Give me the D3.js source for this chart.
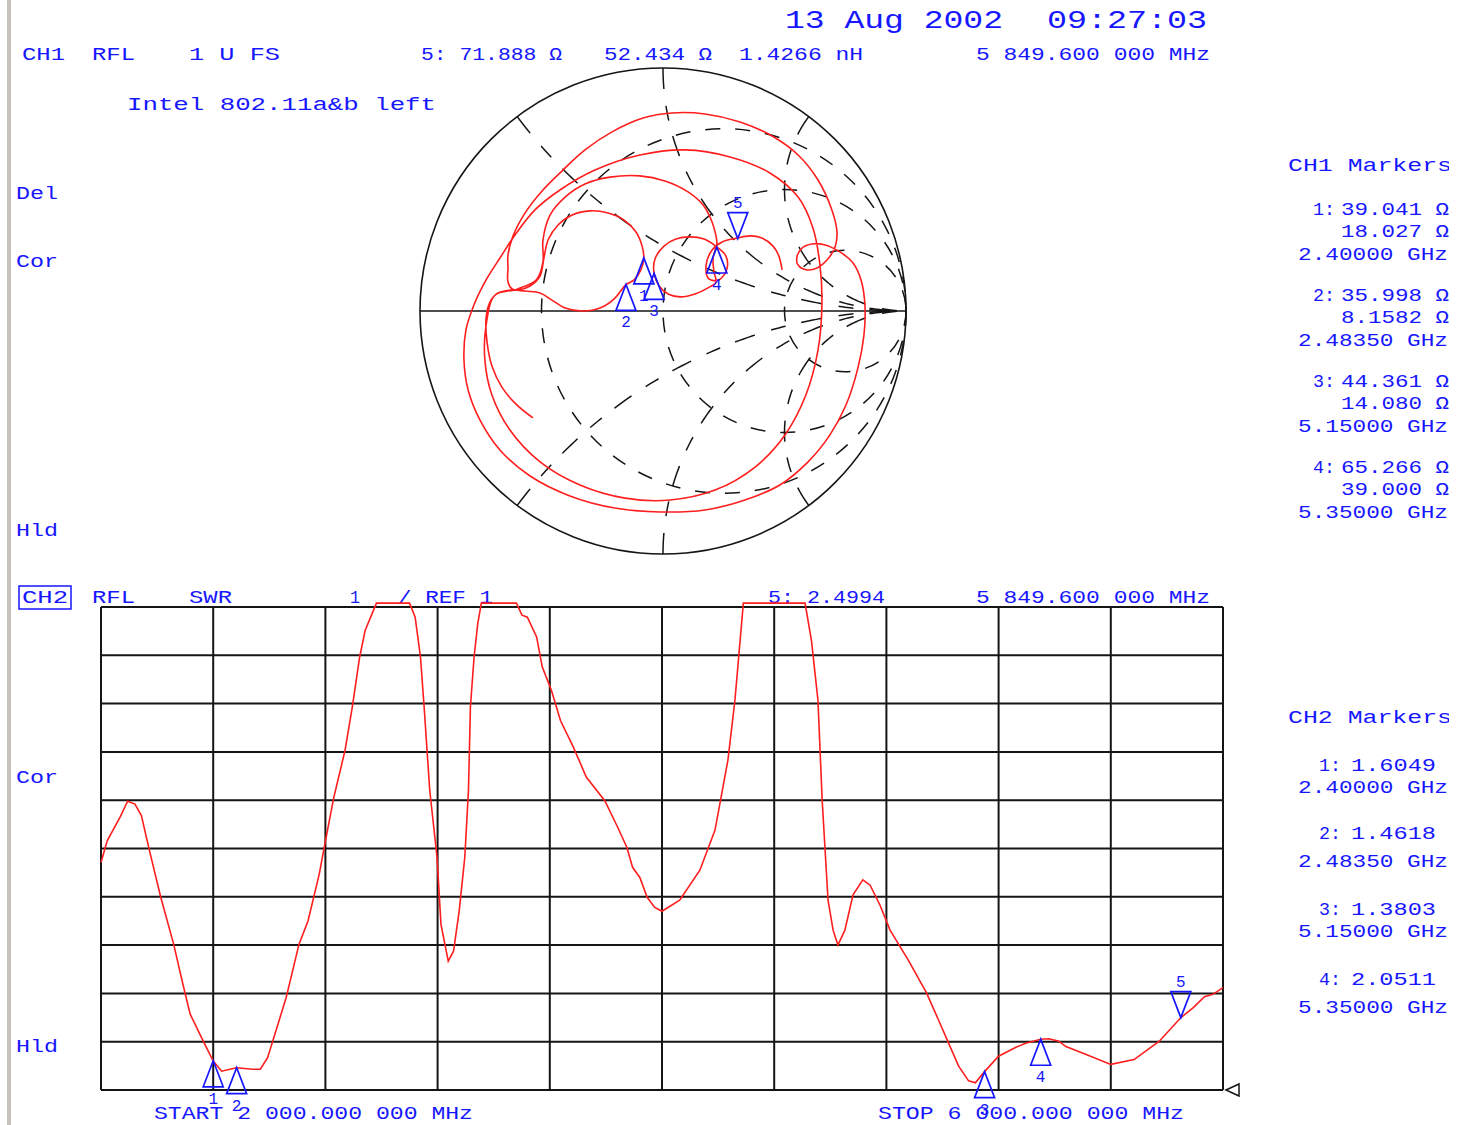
<!DOCTYPE html>
<html><head><meta charset="utf-8">
<script src="https://cdn.jsdelivr.net/npm/d3@7"></script>
<style>
html,body{margin:0;padding:0;background:#fff;}
svg{display:block;}
text{font-family:"Liberation Mono","DejaVu Sans Mono",monospace;fill:#1616ff;}
</style></head><body>
<svg id="c" width="1459" height="1125"></svg>
<script>
// ---------- DATA ----------
// CH2 (SWR vs frequency), frequency in MHz; 11.08 = trace pinned at top of screen
const swrFreqMHz = [2000,2022,2068,2095,2121,2144,2173,2213,2259,2292,2318,2358,2400,2430,2483,2540,2568,2594,2660,2706,2738,2778,2798,2830,2870,2896,2922,2942,2982,3100,3120,3139,3152,3172,3198,3212,3238,3257,3277,3297,3310,3317,3330,3343,3356,3481,3501,3520,3553,3573,3606,3638,3684,3730,3796,3842,3875,3895,3921,3947,3974,4000,4063,4135,4189,4235,4260,4290,4510,4533,4556,4571,4592,4610,4627,4652,4681,4716,4742,4777,4813,4877,4943,4985,5021,5057,5093,5117,5150,5200,5260,5296,5350,5379,5415,5440,5510,5600,5683,5773,5850,5893,5934,5964,6000];
const swrValues  = [5.71,6.16,6.65,6.98,6.92,6.68,5.95,4.99,4.02,3.19,2.57,2.09,1.60,1.39,1.46,1.43,1.43,1.67,2.91,4.02,4.50,5.47,6.09,7.06,8.03,8.93,9.96,10.52,11.08,11.08,10.79,9.96,8.93,7.20,5.82,4.43,3.67,3.88,4.71,5.82,7.20,8.93,9.96,10.65,11.08,11.08,10.83,10.79,10.38,9.76,9.27,8.65,8.10,7.48,6.99,6.44,6.02,5.61,5.40,4.99,4.78,4.70,4.93,5.55,6.38,7.83,9.07,11.08,11.08,10.30,9.07,7.00,4.93,4.31,4.00,4.31,5.04,5.35,5.24,4.83,4.31,3.70,3.01,2.46,1.98,1.50,1.19,1.15,1.38,1.70,1.88,1.97,2.05,2.06,2.01,1.90,1.74,1.53,1.63,2.01,2.50,2.70,2.93,2.98,3.12];
const freqTicks = [2000,2400,2800,3200,3600,4000,4400,4800,5200,5600,6000];
const swrTicks  = [1,2,3,4,5,6,7,8,9,10,11];

const ch2MarkerFreq = [2400, 2483.5, 5150, 5350, 5849.6];
const ch2MarkerSWR  = [1.6049, 1.4618, 1.3803, 2.0511, 2.4994];
const markerIds     = ["1","2","3","4","5"];

// CH1 (Smith chart) markers: R + jX in ohms
const ch1MarkerR = [39.041, 35.998, 44.361, 65.266, 71.888];
const ch1MarkerX = [18.027, 8.1582, 14.080, 39.000, 52.434];

// Smith trace, reflection coefficient (real, imag)
const smithRe = [-0.535,-0.605,-0.663,-0.704,-0.724,-0.728,-0.712,-0.679,-0.630,-0.597,
 -0.547,-0.506,-0.490,-0.473,-0.432,-0.374,-0.300,-0.226,-0.160,-0.111,-0.086,-0.079,-0.091,-0.119,-0.152,-0.202,-0.259,-0.333,-0.403,-0.457,-0.506,-0.568,-0.621,
 -0.638,-0.638,-0.638,-0.617,-0.568,-0.494,-0.412,-0.321,-0.210,-0.082,0.037,0.173,0.317,0.449,0.556,0.638,0.695,0.716,0.708,
 0.675,0.634,0.593,0.556,0.551,0.572,0.613,0.667,0.728,0.782,0.815,0.831,
 0.827,0.802,0.753,0.687,0.597,0.481,0.337,0.173,-0.012,-0.198,-0.383,-0.547,-0.671,-0.753,-0.802,-0.819,-0.811,-0.778,-0.728,-0.671,
 -0.609,-0.527,-0.424,-0.280,-0.095,0.091,0.276,0.440,0.556,0.617,0.646,0.654,0.638,0.588,0.502,0.379,0.214,0.029,-0.156,-0.342,-0.506,-0.630,-0.704,-0.733,-0.728,-0.691,
 -0.600,-0.520,
 -0.494,-0.494,-0.465,-0.403,-0.321,-0.218,-0.095,0.008,0.103,0.165,0.202,0.218,0.222,
 0.206,0.210,0.218,
 0.185,0.132,0.070,0.021,-0.016,-0.037,-0.033,0.004,0.053,0.111,0.169,0.222,
 0.259,0.263,0.230,0.189,0.177,0.202,0.243,
 0.305,0.358,0.407,0.453,0.477,0.490];
const smithIm = [-0.440,-0.383,-0.313,-0.226,-0.128,-0.029,0.037,0.074,0.086,0.086,
 0.103,0.144,0.218,0.292,0.354,0.395,0.412,0.403,0.374,0.325,0.267,0.219,0.169,0.128,0.109,0.049,0.012,0.000,0.012,0.045,0.074,0.082,0.091,
 0.119,0.177,0.230,0.309,0.403,0.498,0.580,0.663,0.737,0.794,0.815,0.811,0.778,0.720,0.642,0.539,0.416,0.325,0.263,
 0.210,0.177,0.169,0.189,0.222,0.259,0.276,0.272,0.243,0.198,0.128,0.025,
 -0.099,-0.235,-0.387,-0.510,-0.621,-0.716,-0.778,-0.819,-0.827,-0.811,-0.761,-0.679,-0.572,-0.449,-0.325,-0.202,-0.078,0.025,0.128,0.218,
 0.313,0.416,0.498,0.580,0.642,0.663,0.634,0.568,0.469,0.342,0.189,0.025,-0.160,-0.346,-0.510,-0.642,-0.737,-0.778,-0.770,-0.716,-0.621,-0.490,-0.346,-0.202,-0.058,0.066,
 0.090,0.130,
 0.202,0.292,0.395,0.469,0.523,0.551,0.556,0.535,0.490,0.436,0.366,0.309,0.276,
 0.218,0.160,0.119,
 0.095,0.070,0.058,0.070,0.103,0.156,0.214,0.267,0.296,0.305,0.296,0.263,
 0.226,0.173,0.128,0.132,0.185,0.251,0.284,
 0.300,0.309,0.300,0.267,0.226,0.169];

const resistanceCircles = [1/3, 1, 3];
const reactanceArcs = [0.5, 1, 2, -0.5, -1, -2];

// ---------- TEXT ----------
const dateText = "13 Aug 2002", timeText = "09:27:03";
const ch1Header = ["CH1","RFL","1 U FS","5: 71.888 \u03a9","52.434 \u03a9","1.4266 nH","5 849.600 000 MHz"];
const ch2Header = ["CH2","RFL","SWR","1","/ REF 1","5: 2.4994","5 849.600 000 MHz"];
const titleText = "Intel 802.11a&b left";
const ch1MarkerLines = [["1:","39.041 \u03a9","18.027 \u03a9","2.40000 GHz"],["2:","35.998 \u03a9","8.1582 \u03a9","2.48350 GHz"],["3:","44.361 \u03a9","14.080 \u03a9","5.15000 GHz"],["4:","65.266 \u03a9","39.000 \u03a9","5.35000 GHz"]];
const ch2MarkerLines = [["1:","1.6049","2.40000 GHz"],["2:","1.4618","2.48350 GHz"],["3:","1.3803","5.15000 GHz"],["4:","2.0511","5.35000 GHz"]];

// ---------- DRAW ----------
const svg = d3.select("#c");
const BLUE = "#1616ff", RED = "#ff1e1e", INK = "#151515";

svg.append("rect").attr("x",7).attr("y",0).attr("width",4).attr("height",1125).attr("fill","#c6c2ba");
svg.append("defs").append("clipPath").attr("id","edge").append("rect").attr("x",0).attr("y",0).attr("width",1449).attr("height",1125);

function txt(s, x, y, len, size){
  const t = svg.append("text").attr("x",x).attr("y",y).attr("font-size",size||18).text(s).attr("clip-path","url(#edge)");
  if(len){ t.attr("textLength",len).attr("lengthAdjust","spacingAndGlyphs"); }
  return t;
}

// header texts
txt(dateText, 785, 28, 218, 26);
txt(timeText, 1047, 28, 160, 26);
const h1x = [22,92,189,421,604,739,976], h1l=[43,43,91,141,108,124,234];
ch1Header.forEach((s,i)=>txt(s,h1x[i],60,h1l[i]));
txt(titleText,127,110,309);
txt("Del",16,199,42); txt("Cor",16,267,42); txt("Hld",16,536,42);
txt("Cor",16,783,42); txt("Hld",16,1052,42);

// CH1 marker panel
txt("CH1 Markers",1288,171,164);
ch1MarkerLines.forEach((g,i)=>{
  const b = 215 + i*86;
  txt(g[0],1313,b,22);
  txt(g[1],1341,b,108);
  txt(g[2],1341,b+22,108);
  txt(g[3],1298,b+45,150);
});
txt("CH2 Markers",1288,723,164);
const ch2Base = [771,839,915,985];
ch2MarkerLines.forEach((g,i)=>{
  txt(g[0],1319,ch2Base[i],22);
  txt(g[1],1351,ch2Base[i],85);
  txt(g[2],1298,ch2Base[i]+ (i===1||i===3?28:22),150);
});

// CH2 header
const h2x=[22,92,189,350,398,768,976], h2l=[46,43,43,10,95,117,234];
ch2Header.forEach((s,i)=>txt(s,h2x[i],603,h2l[i]));
svg.append("rect").attr("x",19).attr("y",586).attr("width",52).attr("height",23).attr("fill","none").attr("stroke",BLUE).attr("stroke-width",1.5);

// ---------- SMITH CHART ----------
const sx = d3.scaleLinear().domain([-1,1]).range([420,906]);
const sy = d3.scaleLinear().domain([-1,1]).range([554,68]);
const unit = sx(1)-sx(0);
function gamma(r,x){ const d=(r+1)*(r+1)+x*x; return [(r*r+x*x-1)/d, 2*x/d]; }
const gLine = d3.line().x(d=>sx(d[0])).y(d=>sy(d[1]));
const smith = svg.append("g");
smith.append("circle").attr("cx",sx(0)).attr("cy",sy(0)).attr("r",unit).attr("fill","none").attr("stroke",INK).attr("stroke-width",1.6);
smith.append("line").attr("x1",sx(-1)).attr("x2",sx(1)).attr("y1",sy(0)).attr("y2",sy(0)).attr("stroke",INK).attr("stroke-width",1.6);
resistanceCircles.forEach(r=>{
  smith.append("circle").attr("cx",sx(r/(1+r))).attr("cy",sy(0)).attr("r",unit/(1+r))
    .attr("fill","none").attr("stroke",INK).attr("stroke-width",1.5).attr("stroke-dasharray","15,15");
});
const rSweep = [0].concat(d3.range(-3,3.01,0.02).map(t=>Math.pow(10,t)));
reactanceArcs.forEach(x=>{
  smith.append("path").attr("d",gLine(rSweep.map(r=>gamma(r,x))))
    .attr("fill","none").attr("stroke",INK).attr("stroke-width",1.5).attr("stroke-dasharray","21,17,15,16");
});
const traceLine = d3.line().x((d,i)=>sx(smithRe[i])).y((d,i)=>sy(smithIm[i])).curve(d3.curveCatmullRom.alpha(0.5));
smith.append("path").attr("d",traceLine(smithRe)).attr("fill","none").attr("stroke",RED).attr("stroke-width",1.6);

// triangle marker helper
function marker(g, px, py, id, down){
  const w=10, h=26;
  const p = down ? `M${px},${py}L${px-w},${py-h}L${px+w},${py-h}Z` : `M${px},${py}L${px-w},${py+h}L${px+w},${py+h}Z`;
  g.append("path").attr("d",p).attr("fill","none").attr("stroke",BLUE).attr("stroke-width",1.7);
  g.append("text").attr("x",px).attr("y",down?py-h-5:py+h+17).attr("text-anchor","middle").attr("font-size",16).text(id);
}
ch1MarkerR.forEach((R,i)=>{
  const z0=50, r=R/z0, x=ch1MarkerX[i]/z0;
  const G = gamma(r,x);
  marker(smith, sx(G[0]), sy(G[1]), markerIds[i], i===4);
});

// ---------- SWR GRID ----------
const bx = d3.scaleLinear().domain([2000,6000]).range([101,1223]);
const by = d3.scaleLinear().domain([1,11]).range([1090,607]);
const grid = svg.append("g");
freqTicks.forEach(f=>grid.append("line").attr("x1",bx(f)).attr("x2",bx(f)).attr("y1",by(1)).attr("y2",by(11)).attr("stroke",INK).attr("stroke-width",2));
swrTicks.forEach(v=>grid.append("line").attr("x1",bx(2000)).attr("x2",bx(6000)).attr("y1",by(v)).attr("y2",by(v)).attr("stroke",INK).attr("stroke-width",2));
const swrLine = d3.line().x((d,i)=>bx(swrFreqMHz[i])).y((d,i)=>by(Math.min(swrValues[i],11.08)));
grid.append("path").attr("d",swrLine(swrValues)).attr("fill","none").attr("stroke",RED).attr("stroke-width",1.6);
ch2MarkerFreq.forEach((f,i)=>marker(grid,bx(f),by(ch2MarkerSWR[i]),markerIds[i],i===4));
// reference level arrow
const rx=bx(6000)+3, ry=by(1);
grid.append("path").attr("d",`M${rx},${ry}L${rx+13},${ry-6}L${rx+13},${ry+6}Z`).attr("fill","none").attr("stroke",INK).attr("stroke-width",1.5);

txt("START 2 000.000 000 MHz",154,1119,319);
txt("STOP 6 000.000 000 MHz",878,1119,306);
</script></body></html>
